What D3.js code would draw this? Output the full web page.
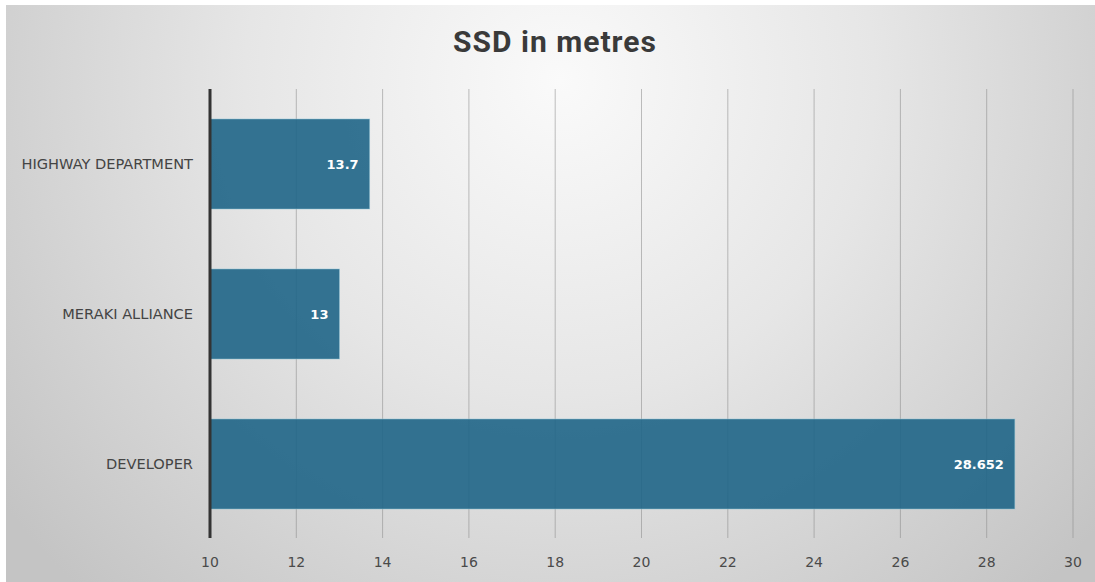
<!DOCTYPE html>
<html lang="en">
<head>
<meta charset="UTF-8">
<title>SSD in metres</title>
<script src="https://d3js.org/d3.v7.min.js"></script>
<style>
  body { margin: 0; background: #fff; font-family: "DejaVu Sans", Roboto, Arial, sans-serif; }
  svg { display: block; }
</style>
</head>
<body>
<div id="chart"></div>
<script>
// data
const categories = ["HIGHWAY DEPARTMENT", "MERAKI ALLIANCE", "DEVELOPER"];
const values = [13.7, 13, 28.652];
const valueLabels = ["13.7", "13", "28.652"];
const tickValues = [10, 12, 14, 16, 18, 20, 22, 24, 26, 28, 30];

const width = 1095, height = 582;
const margin = { top: 89, right: 22, bottom: 43, left: 210 };

const svg = d3.select("#chart").append("svg")
    .attr("width", width)
    .attr("height", height);

// background gradient
const defs = svg.append("defs");
const grad = defs.append("radialGradient")
    .attr("id", "bg")
    .attr("gradientUnits", "userSpaceOnUse")
    .attr("cx", 560).attr("cy", 80).attr("r", 700);
grad.append("stop").attr("offset", "0%").attr("stop-color", "#fafafa");
grad.append("stop").attr("offset", "45%").attr("stop-color", "#e6e6e6");
grad.append("stop").attr("offset", "100%").attr("stop-color", "#c4c4c4");

svg.append("rect")
    .attr("x", 6).attr("y", 5)
    .attr("width", width - 6).attr("height", height - 5)
    .attr("fill", "url(#bg)");

const x = d3.scaleLinear()
    .domain([10, 30])
    .range([margin.left, 1073]);

const y = d3.scaleBand()
    .domain(categories)
    .range([margin.top, height - margin.bottom])
    .paddingInner(0.4)
    .paddingOuter(0.2);

// gridlines (extend down as tick marks)
svg.append("g")
    .selectAll("line")
    .data(tickValues.slice(1))
    .join("line")
    .attr("x1", d => x(d)).attr("x2", d => x(d))
    .attr("y1", margin.top).attr("y2", 538)
    .attr("stroke", "#8a8a8a")
    .attr("stroke-opacity", 0.55)
    .attr("stroke-width", 1);

// bars
svg.append("g")
    .selectAll("rect")
    .data(values)
    .join("rect")
    .attr("x", x(10))
    .attr("y", (d, i) => y(categories[i]))
    .attr("width", d => x(d) - x(10))
    .attr("height", y.bandwidth())
    .attr("fill", "#1f6587")
    .attr("fill-opacity", 0.9)
    .attr("stroke", "#8fc3d6")
    .attr("stroke-opacity", 0.6)
    .attr("stroke-width", 0.8);

// value labels
svg.append("g")
    .selectAll("text")
    .data(values)
    .join("text")
    .attr("x", d => x(d) - 11)
    .attr("y", (d, i) => y(categories[i]) + y.bandwidth() / 2)
    .attr("dy", "0.35em")
    .attr("text-anchor", "end")
    .attr("fill", "#ffffff")
    .attr("font-size", 13)
    .attr("font-weight", "bold")
    .text((d, i) => valueLabels[i]);

// y axis line
svg.append("line")
    .attr("x1", x(10)).attr("x2", x(10))
    .attr("y1", margin.top).attr("y2", 538)
    .attr("stroke", "#333")
    .attr("stroke-width", 3);

// category labels
svg.append("g")
    .selectAll("text")
    .data(categories)
    .join("text")
    .attr("x", 193)
    .attr("y", d => y(d) + y.bandwidth() / 2)
    .attr("dy", "0.35em")
    .attr("text-anchor", "end")
    .attr("fill", "#444")
    .attr("font-size", 14.6)
    .text(d => d);

// x tick labels
svg.append("g")
    .selectAll("text")
    .data(tickValues)
    .join("text")
    .attr("x", d => x(d))
    .attr("y", 562)
    .attr("dy", "0.35em")
    .attr("text-anchor", "middle")
    .attr("fill", "#4a4a4a")
    .attr("font-size", 14)
    .text(d => d);

// title
svg.append("text")
    .attr("x", 555)
    .attr("y", 52)
    .attr("text-anchor", "middle")
    .attr("fill", "#3a3a3a")
    .attr("font-family", "Roboto, 'DejaVu Sans', sans-serif")
    .attr("font-size", 30)
    .attr("font-weight", "bold")
    .attr("letter-spacing", 1)
    .text("SSD in metres");
</script>
</body>
</html>
